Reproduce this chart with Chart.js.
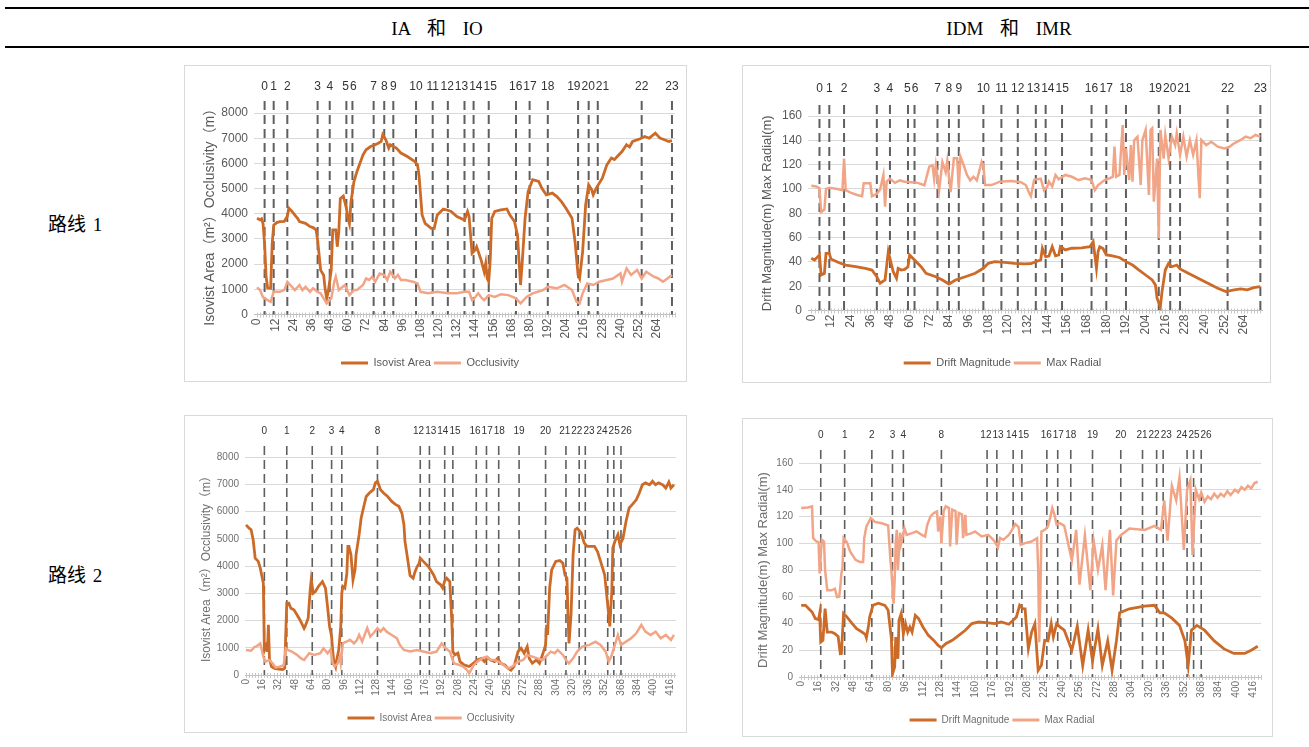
<!DOCTYPE html>
<html>
<head>
<meta charset="utf-8">
<script src="https://cdn.jsdelivr.net/npm/chart.js@4.4.0/dist/chart.umd.min.js"></script>
<style>
  body { margin: 0; background: #fff; width: 1309px; height: 747px; position: relative; overflow: hidden;
         font-family: "Liberation Serif", "Noto Sans CJK SC", serif; color: #000; }
  .rule { position: absolute; left: 5px; right: 0; height: 2px; background: #000; }
  .hd { position: absolute; top: 16px; width: 240px; text-align: center; font-size: 19px; line-height: 26px; word-spacing: 12px; }
  .rl { position: absolute; left: 48px; font-size: 19px; line-height: 28px; word-spacing: 2px; }
  .box { position: absolute; border: 1px solid #d9d9d9; background: #fff; }
  .box canvas { position: absolute; left: 0; top: 0; }
</style>
</head>
<body>
<div class="rule" style="top:7px"></div>
<div class="rule" style="top:46px"></div>
<div class="hd" style="left:317px">IA 和 IO</div>
<div class="hd" style="left:889px">IDM 和 IMR</div>
<div class="rl" style="top:211px">路线 1</div>
<div class="rl" style="top:562px">路线 2</div>

<div class="box" style="left:184px;top:65px;width:501px;height:315px"><canvas id="c1" width="501" height="315"></canvas></div>
<div class="box" style="left:742px;top:65px;width:527px;height:316px"><canvas id="c2" width="527" height="316"></canvas></div>
<div class="box" style="left:184px;top:415px;width:501px;height:316px"><canvas id="c3" width="501" height="318"></canvas></div>
<div class="box" style="left:742px;top:418px;width:529px;height:317px"><canvas id="c4" width="529" height="319"></canvas></div>

<script>
// ---- route 1 (nodes 0-23) ----
const r1Ticks = [0, 12, 24, 36, 48, 60, 72, 84, 96, 108, 120, 132, 144, 156, 168, 180, 192, 204, 216, 228, 240, 252, 264];
const r1Marks = [5, 11, 20, 40, 48, 59, 63, 77, 84, 90, 105, 116, 126, 137, 143, 153, 171, 180, 192, 212, 219, 225, 254, 274];
const r1MarkLabels = ['0','1','2','3','4','5','6','7','8','9','10','11','12','13','14','15','16','17','18','19','20','21','22','23'];

const r1Area = [[0,3820],[2,3760],[3,3800],[4,3600],[5,2800],[6,1500],[7,1050],[9,1040],[10,2800],[11,3550],[13,3650],[15,3690],
  [18,3700],[20,3900],[21,4220],[23,4100],[25,3950],[27,3800],[28,3690],[32,3620],[35,3490],[37,3450],[39,3360],[40,2960],
  [42,1760],[44,1560],[45,1000],[46,640],[47,900],[49,1760],[50,3360],[52,3360],[53,2690],[54,3300],[55,4600],[57,4700],
  [59,4220],[60,3820],[61,3600],[62,4450],[64,5280],[66,5680],[70,6340],[72,6540],[75,6670],[78,6740],[80,6800],[82,6870],
  [83,7140],[85,6940],[87,6610],[88,6740],[92,6610],[95,6410],[99,6280],[104,6080],[106,5940],[107,5500],[109,3950],
  [111,3620],[115,3420],[117,3420],[119,3950],[123,4190],[128,4100],[132,3890],[137,3750],[139,4090],[140,3900],[142,2430],
  [144,2560],[145,2690],[148,2160],[150,1700],[151,2030],[152,1430],[153,1300],[154,2200],[155,3820],[157,4090],[161,4150],
  [165,4190],[167,3950],[170,3690],[172,3160],[174,1170],[175,1960],[177,3820],[179,4880],[182,5350],[186,5280],[188,5020],
  [191,4750],[195,4820],[198,4680],[201,4480],[204,4220],[208,3820],[210,2890],[212,1560],[213,1430],[215,2490],[217,4350],
  [219,5150],[221,4950],[222,4750],[224,5020],[228,5410],[231,5940],[234,6210],[236,6150],[238,6280],[241,6470],[244,6740],
  [246,6650],[248,6870],[253,6980],[256,7070],[259,7000],[263,7200],[266,7010],[269,6940],[272,6870],[274,6900]];
const r1Occl = [[0,1075],[2,970],[4,680],[7,570],[9,500],[11,900],[15,900],[18,970],[20,1300],[22,1170],[25,970],[28,1170],
  [30,970],[32,1100],[35,900],[37,1040],[40,900],[42,840],[44,640],[46,440],[49,640],[51,1300],[52,1500],[54,970],[58,1170],
  [60,900],[61,770],[64,970],[66,970],[70,1170],[72,1430],[74,1370],[76,1500],[78,1300],[81,1630],[84,1570],[86,1370],
  [88,1700],[91,1430],[93,1570],[95,1370],[98,1370],[103,1300],[106,1230],[108,900],[113,840],[119,900],[126,840],[132,840],
  [137,900],[140,900],[142,570],[143,600],[146,840],[148,680],[150,570],[153,770],[157,700],[161,800],[166,770],[171,640],
  [174,440],[178,700],[182,840],[189,970],[192,1100],[198,1040],[203,1170],[208,970],[211,500],[213,440],[215,840],[218,1230],
  [222,1170],[226,1300],[231,1370],[235,1430],[240,1630],[241,1300],[244,1830],[247,1570],[251,1770],[254,1430],[257,1700],
  [262,1500],[265,1430],[268,1300],[271,1430],[274,1570]];
const r1Drift = [[0,42.9],[2,41.5],[4,44.3],[5,45.7],[6,29.2],[8,30.6],[9,47],[11,47],[12,42.3],[17,39.3],[21,37.4],[27,36],
  [33,34.6],[37,33.3],[40,27.8],[42,22.4],[45,25.1],[47,48.4],[49,37.4],[50,31.9],[52,26.5],[53,34.6],[55,33.3],[57,33.8],
  [59,36],[60,45.7],[63,41.5],[67,36],[70,30.6],[76,27.8],[80,25.1],[84,21.8],[88,25.1],[94,27.8],[100,30.6],[105,34.7],
  [108,38.8],[112,40.2],[118,39.6],[124,38.8],[130,38.3],[134,38.5],[137,40.2],[140,41.5],[141,51.2],[143,44.3],[145,44.8],
  [147,52.5],[149,45],[151,45.7],[152,52.5],[155,49.8],[159,51.2],[165,51.6],[170,52.5],[172,56.6],[174,34.7],[175,48.4],
  [176,52.5],[178,51],[180,45.7],[183,45.2],[188,43.6],[192,40.2],[196,37.4],[200,33.3],[204,29.2],[208,25.1],[210,21],
  [211,10],[213,3.1],[214,15.5],[216,33.3],[218,38.8],[220,36],[223,37.4],[225,34.2],[230,30.6],[236,26.5],[242,22.4],
  [248,18.3],[253,15.5],[258,16.9],[262,17.7],[266,17],[270,18.8],[274,19.6]];
const r1Radial = [[0,102.7],[3,102],[5,100.5],[6,81],[8,83],[9,100],[11,101],[16,100],[19,99],[20,125],[21,99],[24,97],[28,95],
  [31,94],[32,104.6],[36,104.6],[37,94],[40,96],[42,99.5],[44,111.5],[45,85.4],[46,106],[48,108.5],[51,105],[54,107],[57,106],
  [61,105.5],[65,105],[69,103],[72,118.3],[74,119.5],[75,108],[76,119.5],[78,99],[80,122],[82,113.7],[83,123.2],[85,97.3],
  [87,125.2],[89,125.2],[90,100.5],[91,126.6],[93,119.5],[95,111.5],[97,107],[99,110],[101,107],[104,122.4],[105,119.5],
  [106,103.2],[110,103.2],[115,106],[122,106.5],[128,105.5],[131,103],[133,96.4],[134,94],[136,107.5],[140,108.5],[142,99],
  [144,102],[145,106],[147,102],[149,111.5],[151,108],[155,111.5],[159,110],[163,107.3],[167,108.8],[171,107.3],[173,99],
  [175,103.2],[179,107.3],[182,108.8],[184,110],[185,134.8],[186,110],[188,111.5],[190,152.6],[191,111.5],[192,133.4],
  [194,107.3],[195,136],[196,106],[197,140],[199,143],[201,103.2],[202,140],[204,148.5],[206,95],[207,148.5],[208,149.9],
  [209,89.5],[211,125],[212,59.4],[213,148.5],[215,125],[216,144.3],[218,125.2],[220,143],[222,136],[223,145.8],[225,128],
  [227,143],[229,126.6],[231,140],[233,128],[235,140],[237,92.3],[238,140.3],[241,136],[244,138.8],[248,134.8],[252,133.4],
  [255,134.5],[258,137.5],[262,140.3],[265,143],[268,141.7],[271,144.4],[274,143]];

// ---- route 2 (nodes 0-26) ----
const r2Ticks = [0, 16, 32, 48, 64, 80, 96, 112, 128, 144, 160, 176, 192, 208, 224, 240, 256, 272, 288, 304, 320, 336, 352, 368, 384, 400, 416];
const r2Marks = [18, 40, 65, 84, 94, 129, 171, 180, 195, 203, 226, 236, 248, 268, 294, 314, 327, 333, 355, 361, 368];
const r2MarkLabels = ['0','1','2','3','4','8','12','13','14','15','16','17','18','19','20','21','22','23','24','25','26'];

const r2Area = [[0,5510],[3,5390],[5,5330],[7,4960],[9,4290],[12,4170],[14,3920],[16,3550],[17,3370],[18,900],[20,1100],
  [21,850],[22,1840],[23,600],[25,310],[28,240],[32,220],[36,200],[38,250],[39,1500],[40,2640],[42,2640],[44,2450],[47,2390],
  [50,2210],[53,2020],[57,1710],[58,1780],[61,2080],[63,3120],[64,3490],[66,3000],[68,3060],[71,3250],[75,3430],[78,3190],
  [80,2510],[82,1780],[84,1410],[85,920],[86,550],[88,310],[89,550],[91,920],[93,1780],[94,3000],[95,3250],[97,3190],
  [99,3740],[100,4720],[101,4720],[103,4410],[105,3490],[107,3860],[108,4410],[111,5150],[113,5760],[116,6250],[118,6550],
  [121,6680],[125,6800],[127,7050],[129,7110],[132,6800],[135,6680],[139,6550],[143,6370],[147,6250],[150,6190],[153,5940],
  [155,5510],[156,4900],[158,4410],[161,3650],[164,3550],[166,3800],[168,3980],[170,4100],[171,4290],[174,4170],[179,3980],
  [181,3860],[184,3680],[187,3430],[191,3310],[193,3190],[195,3450],[197,3550],[200,3430],[202,1960],[203,860],[205,740],
  [208,800],[210,490],[214,370],[219,310],[223,430],[227,550],[231,610],[234,490],[237,640],[240,550],[244,490],[247,610],
  [250,430],[254,370],[257,250],[260,180],[263,310],[267,860],[270,980],[273,800],[276,1040],[278,610],[281,430],[285,550],
  [288,430],[291,740],[294,1100],[295,1840],[296,1470],[298,3190],[300,3860],[304,4170],[308,4200],[311,4100],[313,3680],
  [315,3550],[316,2210],[317,1160],[319,2210],[321,4410],[323,5330],[325,5390],[329,5210],[332,4840],[335,4720],[342,4720],
  [345,4530],[348,4170],[352,3680],[354,2940],[356,2210],[357,1780],[359,3060],[360,4660],[362,4900],[365,5150],[367,4780],
  [370,5020],[373,5640],[376,6130],[379,6250],[383,6430],[386,6680],[389,6980],[392,7050],[396,6980],[399,7110],[402,6980],
  [405,7050],[409,6980],[412,6860],[415,7080],[417,6860],[420,6980]];
const r2Occl = [[0,920],[5,890],[8,1020],[11,1070],[14,1160],[17,670],[19,490],[23,550],[26,430],[29,280],[34,310],[37,370],
  [39,980],[41,920],[45,860],[50,740],[54,610],[57,550],[62,800],[67,740],[73,800],[76,980],[80,800],[83,940],[85,430],[87,310],
  [90,430],[92,670],[93,430],[95,1160],[99,1230],[102,1290],[106,1160],[109,1290],[111,1470],[114,1230],[117,1530],[119,1720],
  [122,1410],[125,1530],[129,1720],[132,1590],[135,1720],[138,1590],[143,1470],[148,1350],[151,1100],[155,920],[161,860],
  [168,920],[174,860],[181,800],[187,860],[192,1160],[196,980],[200,860],[204,430],[209,370],[213,310],[217,180],[219,60],
  [223,330],[227,490],[232,620],[236,670],[240,560],[244,550],[248,480],[252,390],[255,300],[258,245],[262,330],[265,430],
  [268,500],[272,550],[276,735],[281,674],[286,612],[291,551],[296,735],[299,858],[303,800],[306,919],[311,735],[314,551],
  [317,429],[321,612],[325,858],[330,1042],[337,1103],[343,1225],[348,1103],[353,858],[356,490],[359,735],[362,1103],
  [365,1470],[368,1103],[373,1225],[378,1348],[383,1531],[386,1715],[388,1838],[392,1593],[397,1470],[402,1593],[407,1348],
  [412,1470],[417,1286],[420,1470]];
const r2Drift = [[0,53.6],[4,53.6],[7,51.1],[10,48.6],[13,43.6],[16,42.9],[17,47.4],[18,26.1],[20,27.4],[22,51.1],[24,33.6],
  [28,33.6],[31,32.4],[34,30.3],[36,17.4],[37,17.5],[39,47.4],[42,44.9],[47,39.9],[51,36.1],[56,33.6],[59,31.8],[60,29.3],
  [62,38.6],[63,44.9],[66,53.6],[71,55.2],[77,53.6],[80,49.9],[83,28.6],[84,2.4],[86,7.4],[87,29.9],[89,13.6],[90,42.4],
  [92,47.4],[94,32.4],[96,39.9],[98,33.6],[100,37.4],[102,33.6],[105,46.1],[108,43.6],[112,37.4],[117,31.1],[122,27.4],
  [126,23.6],[129,21.9],[133,24.9],[139,27.4],[145,31.1],[151,34.9],[157,39.9],[163,41.1],[172,40.4],[178,39.9],[184,41.1],
  [191,39.4],[195,42.4],[198,44.9],[201,53.6],[204,51.1],[206,51],[207,39.9],[209,21.1],[212,33.6],[215,39.9],[218,4.9],
  [221,8.7],[224,27.4],[227,27],[230,39.9],[232,29.9],[235,39.9],[238,37.4],[242,35],[249,20],[254,38],[259,8.6],[264,35],
  [268,12],[273,36],[277,8.6],[282,27],[286,5],[290,27],[293,48],[302,51],[316,53],[325,53.6],[330,48],[334,48],[341,44],
  [348,38.6],[353,27],[356,8.6],[359,35],[364,38.6],[371,35],[380,27],[389,21],[398,17.6],[408,17.6],[414,20],[420,23]];
const r2Radial = [[0,126.3],[6,126.8],[10,127.6],[11,103.8],[14,101.3],[16,100.8],[17,77.4],[18,91.3],[19,102.6],[21,101.3],
  [22,80],[24,64.8],[28,64.8],[31,66],[33,59.8],[35,60],[36,67.3],[37,77.4],[38,81.3],[39,103.8],[42,100.8],[45,93.9],[50,87.6],
  [54,86],[57,86],[58,103.8],[60,112.6],[64,118.8],[68,116],[74,115],[80,113.3],[82,88.8],[83,79],[84,67.3],[85,54.9],
  [86,72.4],[87,101.3],[88,110],[89,80],[91,108],[92,100],[95,111.3],[97,106.3],[102,107.6],[106,108.8],[111,106.3],[114,105],
  [116,113.8],[119,120.1],[122,122.6],[125,123.8],[126,108.8],[128,120],[129,100.1],[131,123.8],[133,127.6],[136,126.3],
  [137,97.6],[139,125.1],[142,124],[143,98.9],[145,122.6],[148,121.4],[149,103.8],[151,121.3],[152,106.3],[157,107.6],
  [160,108.8],[166,105.1],[172,106.3],[175,104],[178,101.3],[181,97],[183,104],[186,102.6],[188,104],[191,106.3],[194,110],
  [197,114.3],[200,112],[202,98.8],[206,100.1],[212,101.3],[217,103.8],[218,81.3],[219,26],[220,60],[221,108.8],[224,110],
  [227,112.6],[229,118.8],[231,126.3],[233,121.3],[235,113.8],[238,115],[242,113],[245,102],[249,87],[253,110],[256,69],
  [261,106],[266,65],[269,102],[273,80],[277,98.5],[280,65],[284,110],[287,61],[290,102],[294,106],[302,111],[316,110],
  [325,113],[331,110],[334,132],[337,102],[341,143],[345,132],[348,149],[352,95],[355,140],[358,147],[360,91],[363,140],
  [366,133],[368,138],[371,131],[374,135],[377,133],[380,137],[383,134],[386,137],[389,135],[392,139],[395,136],[399,140],
  [402,138],[405,142],[408,140],[411,143],[414,141],[417,145],[420,146]];

const DARK = '#cc6a28';
const LIGHT = '#f2a586';
const SANS = '"Liberation Sans", Arial, "Noto Sans CJK SC", sans-serif';

Chart.defaults.font.family = SANS;
Chart.defaults.animation = false;

function pts(a) { return a.map(p => ({ x: p[0], y: p[1] })); }

// dashed node markers with their numbers above the plot, plus small axis ticks
const markerPlugin = {
  id: 'markers',
  beforeDatasetsDraw(chart, args, o) {
    const { ctx, chartArea: a, scales: { x } } = chart;
    ctx.save();
    ctx.strokeStyle = '#c8c8c8';
    ctx.lineWidth = 1;
    for (let v = 0; v <= x.max; v += o.minor) {
      const px = Math.round(x.getPixelForValue(v)) + 0.5;
      ctx.beginPath(); ctx.moveTo(px, a.bottom - 2); ctx.lineTo(px, a.bottom + 3); ctx.stroke();
    }
    ctx.strokeStyle = '#5f5f5f';
    ctx.lineWidth = o.width;
    ctx.setLineDash([9, 5]);
    o.at.forEach(v => {
      const px = x.getPixelForValue(v);
      ctx.beginPath(); ctx.moveTo(px, a.top - o.rise); ctx.lineTo(px, a.bottom); ctx.stroke();
    });
    ctx.setLineDash([]);

    // node numbers: crowded ones are spread around their group centre
    ctx.fillStyle = '#333';
    ctx.font = o.size + 'px ' + SANS;
    ctx.textAlign = 'center';
    ctx.textBaseline = 'middle';
    const g = 1;
    const blocks = [];
    o.at.forEach((v, i) => {
      const w = ctx.measureText(o.labels[i]).width + g;
      blocks.push({ items: [{ t: o.labels[i], w }], W: w, sum: x.getPixelForValue(v), n: 1 });
      while (blocks.length > 1) {
        const b = blocks[blocks.length - 1], p = blocks[blocks.length - 2];
        if (p.sum / p.n + p.W / 2 <= b.sum / b.n - b.W / 2) break;
        p.items.push(...b.items); p.W += b.W; p.sum += b.sum; p.n += b.n;
        blocks.pop();
      }
    });
    blocks.forEach(b => {
      let x0 = b.sum / b.n - b.W / 2;
      b.items.forEach(it => { ctx.fillText(it.t, x0 + it.w / 2, a.top - o.gap); x0 += it.w; });
    });
    ctx.restore();
  }
};

function drawChart(id, s) {
  const txt = s.txt;
  new Chart(document.getElementById(id), {
    type: 'line',
    data: {
      datasets: [
        { label: s.names[0], data: pts(s.dark), borderColor: DARK, backgroundColor: DARK, borderWidth: 2.8, pointRadius: 0, order: 1 },
        { label: s.names[1], data: pts(s.light), borderColor: LIGHT, backgroundColor: LIGHT, borderWidth: 2.5, pointRadius: 0, order: 0 }
      ]
    },
    plugins: [markerPlugin],
    options: {
      responsive: false,
      layout: { autoPadding: false, padding: { top: s.pad[0], right: s.pad[1], bottom: s.pad[2], left: 0 } },
      plugins: {
        tooltip: { enabled: false },
        legend: {
          position: 'bottom',
          labels: {
            boxWidth: 27, boxHeight: 3, padding: 3, color: txt, font: { size: s.legSize },
            sort: (a, b) => a.datasetIndex - b.datasetIndex,
            generateLabels: ch => Chart.defaults.plugins.legend.labels.generateLabels(ch).map(l => Object.assign(l, { lineWidth: 0 }))
          }
        },
        markers: { at: s.marks, labels: s.markLabels, size: s.markSize, gap: s.gap, rise: s.rise, width: s.dashW, minor: s.minor }
      },
      scales: {
        x: {
          type: 'linear', min: s.xMin, max: s.xMax,
          afterBuildTicks: sc => { sc.ticks = s.ticks.map(v => ({ value: v })); },
          afterFit: sc => { sc.height = s.xH; },
          ticks: { autoSkip: false, minRotation: 90, maxRotation: 90, padding: 4, color: txt,
                   font: { size: s.tick }, callback: v => String(v) },
          grid: { display: false, drawTicks: false },
          border: { display: true, color: '#bfbfbf', width: 1 }
        },
        y: {
          min: 0, max: s.yMax,
          afterFit: sc => { sc.width = s.yW; },
          ticks: { stepSize: s.yStep, padding: 6, color: txt, font: { size: s.tick }, callback: v => String(v) },
          grid: { color: '#d9d9d9', drawTicks: false },
          border: { display: false },
          title: { display: true, text: s.yTitle, color: txt, font: { size: s.titleSize }, padding: { top: s.titlePad, bottom: 0 } }
        }
      }
    }
  });
}

drawChart('c1', {
  names: ['Isovist Area', 'Occlusivity'], dark: r1Area, light: r1Occl,
  yTitle: 'Isovist Area（m²）Occlusivity（m）', yMax: 8000, yStep: 1000,
  ticks: r1Ticks, marks: r1Marks, markLabels: r1MarkLabels,
  xMin: -2, xMax: 276, pad: [47, 11, 2.5], yW: 69, xH: 40,
  txt: '#595959', tick: 12, legSize: 11, titleSize: 14, titlePad: 17,
  markSize: 12, gap: 26, rise: 12, dashW: 2, minor: 2
});
drawChart('c2', {
  names: ['Drift Magnitude', 'Max Radial'], dark: r1Drift, light: r1Radial,
  yTitle: 'Drift Magnitude(m) Max Radial(m)', yMax: 160, yStep: 20,
  ticks: r1Ticks, marks: r1Marks, markLabels: r1MarkLabels,
  xMin: -2, xMax: 275, pad: [50, 8, 3.5], yW: 65, xH: 44,
  txt: '#595959', tick: 12, legSize: 11, titleSize: 13, titlePad: 17,
  markSize: 12, gap: 27, rise: 11, dashW: 2, minor: 2
});
drawChart('c3', {
  names: ['Isovist Area', 'Occlusivity'], dark: r2Area, light: r2Occl,
  yTitle: 'Isovist Area（m²）Occlusivity（m）', yMax: 8000, yStep: 1000,
  ticks: r2Ticks, marks: r2Marks, markLabels: r2MarkLabels,
  xMin: -1, xMax: 422, pad: [41, 9, 1], yW: 60, xH: 35,
  txt: '#6f6f6f', tick: 10, legSize: 10, titleSize: 12, titlePad: 14,
  markSize: 10, gap: 26, rise: 11, dashW: 1.6, minor: 3
});
drawChart('c4', {
  names: ['Drift Magnitude', 'Max Radial'], dark: r2Drift, light: r2Radial,
  yTitle: 'Drift Magnitude(m) Max Radial(m)', yMax: 160, yStep: 20,
  ticks: r2Ticks, marks: r2Marks, markLabels: r2MarkLabels,
  xMin: -2, xMax: 423, pad: [44, 11, 3], yW: 56, xH: 35,
  txt: '#6f6f6f', tick: 10, legSize: 10, titleSize: 13, titlePad: 13,
  markSize: 10, gap: 28, rise: 13, dashW: 1.6, minor: 3
});
</script>
</body>
</html>
